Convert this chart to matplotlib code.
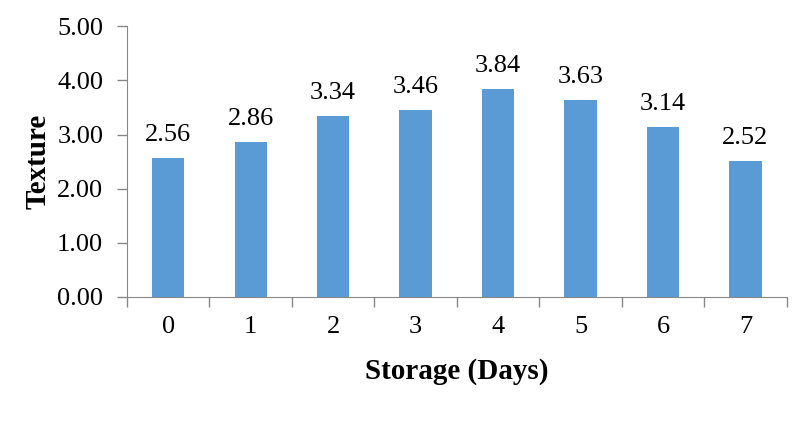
import numpy as np
import matplotlib.pyplot as plt

# Textura ao longo do armazenamento
days = ['0', '1', '2', '3', '4', '5', '6', '7']
texture = [2.56, 2.86, 3.34, 3.46, 3.84, 3.63, 3.14, 2.52]
yticks = [0, 1, 2, 3, 4, 5]

plt.rcParams['font.family'] = ['Liberation Serif', 'DejaVu Serif']

fig = plt.figure(figsize=(7.93, 4.23), dpi=100)
ax = fig.add_axes([0.160, 0.298, 0.832, 0.640])

x = np.arange(len(days))
bars = ax.bar(x, texture, width=0.39, color='#5B9BD5')
for b, v in zip(bars, texture):
    ax.text(b.get_x() + b.get_width() / 2, v + 0.22, f"{v:.2f}",
            ha='center', va='bottom', fontsize=19)

ax.set_xlim(-0.5, len(days) - 0.5)
ax.set_ylim(0, 5)
ax.set_yticks(yticks)
ax.set_yticklabels([f"{t:.2f}" for t in yticks], fontsize=19)
ax.set_xticks(x)
ax.set_xticklabels(days, fontsize=19)
ax.set_xticks(np.arange(-0.5, len(days)), minor=True)
ax.tick_params(axis='x', which='major', length=0, pad=14)
ax.tick_params(axis='x', which='minor', length=7, color='#888888', width=1)
ax.tick_params(axis='y', length=7, color='#888888', width=1, pad=10)

for s in ['top', 'right']:
    ax.spines[s].set_visible(False)
for s in ['left', 'bottom']:
    ax.spines[s].set_color('#888888')

ax.set_xlabel("Storage (Days)", fontsize=21, fontweight='bold', labelpad=14)
ax.set_ylabel("Texture", fontsize=21, fontweight='bold', labelpad=4)

fig.savefig("out.png")
